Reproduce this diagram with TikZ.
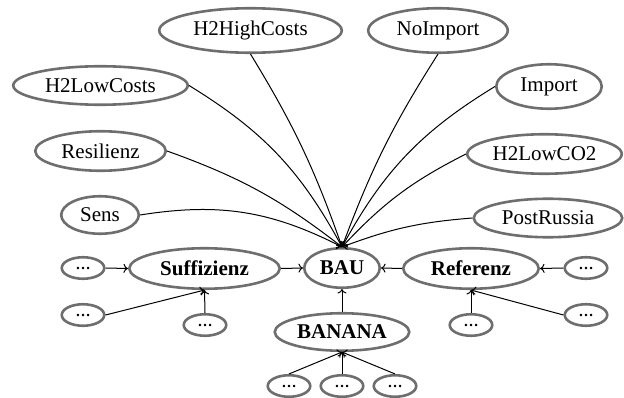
\documentclass[tikz,border=0pt]{standalone}
\usepackage{fontspec}
\setmainfont{Liberation Serif}
\usetikzlibrary{shapes.geometric,arrows.meta}
\definecolor{rim}{gray}{0.43}
\tikzset{
  scen/.style={ellipse, draw=rim, line width=2.6pt, inner sep=0pt,
    font=\fontsize{21}{25}\selectfont},
  key/.style={scen, font=\fontsize{21}{25}\selectfont\bfseries},
  more/.style={scen, minimum width=42.5pt, minimum height=21.5pt,
    font=\fontsize{15}{17}\selectfont\bfseries},
  link/.style={line width=1pt, -{To[length=4.5pt,width=9pt]}},
}
\begin{document}
\begin{tikzpicture}[x=1pt, y=-1pt]
\useasboundingbox (0,0) rectangle (624,398);

% scenarios feeding the base case
\node[scen, minimum width=182.5pt, minimum height=44.5pt] (hhc) at (250.5,30.5) {H2HighCosts};
\node[scen, minimum width=139.5pt, minimum height=44.5pt] (noimp) at (438,30.5) {NoImport};
\node[scen, minimum width=174.5pt, minimum height=38.5pt] (hlc) at (100.5,85.5) {H2LowCosts};
\node[scen, minimum width=105.5pt, minimum height=44.5pt] (imp) at (549,86.5) {Import};
\node[scen, minimum width=130.5pt, minimum height=39.5pt] (res) at (100.5,151) {Resilienz};
\node[scen, minimum width=154.5pt, minimum height=39.5pt] (hco) at (544.5,154) {H2LowCO2};
\node[scen, minimum width=77.5pt, minimum height=37.5pt] (sens) at (100,215) {Sens};
\node[scen, minimum width=148.5pt, minimum height=38.5pt] (post) at (548,218) {PostRussia};

% main row
\node[key, minimum width=150.5pt, minimum height=40.5pt] (suff) at (204.5,268.5) {Suffizienz};
\node[key, minimum width=75.5pt, minimum height=39.5pt] (bau) at (342,268) {BAU};
\node[key, minimum width=135.5pt, minimum height=40.5pt] (ref) at (471,268.5) {Referenz};
\node[key, minimum width=134.5pt, minimum height=37.5pt] (ban) at (342,332) {BANANA};

% placeholder scenarios
\node[more] (sa) at (83,268) {\dots};
\node[more] (sb) at (83,315) {\dots};
\node[more] (sc) at (205,325) {\dots};
\node[more] (ra) at (586,268) {\dots};
\node[more] (rb) at (586,315) {\dots};
\node[more] (rc) at (471,325) {\dots};
\node[more] (ba) at (289,386) {\dots};
\node[more] (bb) at (342,386) {\dots};
\node[more] (bc) at (395,386) {\dots};

% curved links into BAU
\draw[link] (hhc.south) to[bend left=6] (bau.north);
\draw[link] (noimp.south) to[bend right=6] (bau.north);
\draw[link] (hlc.east) to[bend left=15] (bau.north);
\draw[link] (imp.west) to[bend right=15] (bau.north);
\draw[link] (res.east) to[bend left=9] (bau.north);
\draw[link] (hco.west) to[bend right=10] (bau.north);
\draw[link] (sens.east) to[bend left=18] (bau.north);
\draw[link] (post.west) to[bend right=8] (bau.north);

% straight links
\draw[link] (suff.east) -- (bau.west);
\draw[link] (ref.west) -- (bau.east);
\draw[link] (ban.north) -- (bau.south);
\draw[link] (sa.east) -- (suff.west);
\draw[link] (sb.east) -- (suff.south);
\draw[link] (sc.north) -- (suff.south);
\draw[link] (ra.west) -- (ref.east);
\draw[link] (rb.west) -- (ref.south);
\draw[link] (rc.north) -- (ref.south);
\draw[link] (ba.north) -- (ban.south);
\draw[link] (bb.north) -- (ban.south);
\draw[link] (bc.north) -- (ban.south);
\end{tikzpicture}
\end{document}
